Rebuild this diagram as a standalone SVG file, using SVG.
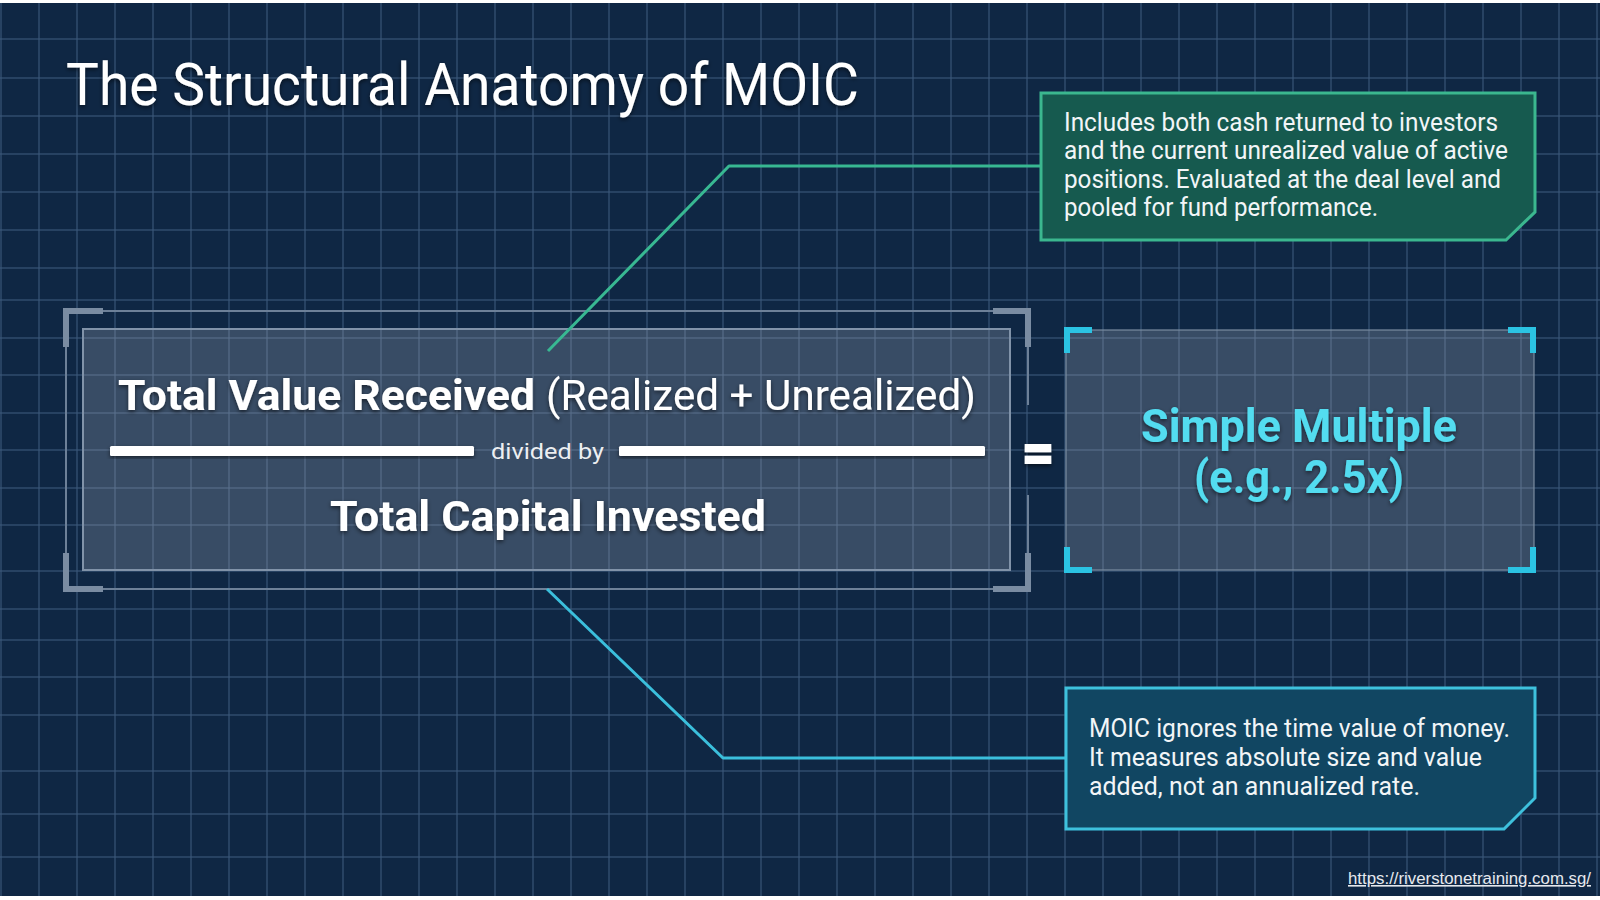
<svg xmlns="http://www.w3.org/2000/svg" width="1600" height="900" viewBox="0 0 1600 900">
  <defs>
    <style>
      .grid line { stroke: #3b587a; stroke-width: 1.5; stroke-opacity: 0.75; }
      .t { font-family: Roboto, "Liberation Sans", sans-serif; fill: #ffffff; }
      .b { font-weight: 700; }
      .cy { fill: #52dcf0; font-weight: 700; }
      .note { font-family: Roboto, "Liberation Sans", sans-serif; fill: #f2f5f7; font-size: 25px; }
      .frame { fill: none; stroke: #6d8098; stroke-width: 2; }
      .brk { fill: none; stroke: #7a8ca2; stroke-width: 6; }
      .cbrk { fill: none; stroke: #2bc3e3; stroke-width: 6; }
      .panel { fill: #a4aebc; fill-opacity: 0.28; }
    </style>
    <filter id="sh" x="-10%" y="-30%" width="120%" height="160%">
      <feDropShadow dx="0" dy="2" stdDeviation="2" flood-color="#000000" flood-opacity="0.55"/>
    </filter>
  </defs>

  <rect x="0" y="0" width="1600" height="900" fill="#ffffff"/>
  <rect x="0" y="3" width="1600" height="893" fill="#0f2744"/>

  <g class="grid">
    <line x1="1" y1="3" x2="1" y2="896"/><line x1="39" y1="3" x2="39" y2="896"/><line x1="77" y1="3" x2="77" y2="896"/><line x1="115" y1="3" x2="115" y2="896"/><line x1="153" y1="3" x2="153" y2="896"/><line x1="191" y1="3" x2="191" y2="896"/><line x1="229" y1="3" x2="229" y2="896"/><line x1="267" y1="3" x2="267" y2="896"/><line x1="305" y1="3" x2="305" y2="896"/><line x1="343" y1="3" x2="343" y2="896"/><line x1="381" y1="3" x2="381" y2="896"/><line x1="419" y1="3" x2="419" y2="896"/><line x1="457" y1="3" x2="457" y2="896"/><line x1="495" y1="3" x2="495" y2="896"/><line x1="533" y1="3" x2="533" y2="896"/><line x1="571" y1="3" x2="571" y2="896"/><line x1="609" y1="3" x2="609" y2="896"/><line x1="647" y1="3" x2="647" y2="896"/><line x1="685" y1="3" x2="685" y2="896"/><line x1="723" y1="3" x2="723" y2="896"/><line x1="761" y1="3" x2="761" y2="896"/><line x1="799" y1="3" x2="799" y2="896"/><line x1="837" y1="3" x2="837" y2="896"/><line x1="875" y1="3" x2="875" y2="896"/><line x1="913" y1="3" x2="913" y2="896"/><line x1="951" y1="3" x2="951" y2="896"/><line x1="989" y1="3" x2="989" y2="896"/><line x1="1027" y1="3" x2="1027" y2="896"/><line x1="1065" y1="3" x2="1065" y2="896"/><line x1="1103" y1="3" x2="1103" y2="896"/><line x1="1141" y1="3" x2="1141" y2="896"/><line x1="1179" y1="3" x2="1179" y2="896"/><line x1="1217" y1="3" x2="1217" y2="896"/><line x1="1255" y1="3" x2="1255" y2="896"/><line x1="1293" y1="3" x2="1293" y2="896"/><line x1="1331" y1="3" x2="1331" y2="896"/><line x1="1369" y1="3" x2="1369" y2="896"/><line x1="1407" y1="3" x2="1407" y2="896"/><line x1="1445" y1="3" x2="1445" y2="896"/><line x1="1483" y1="3" x2="1483" y2="896"/><line x1="1521" y1="3" x2="1521" y2="896"/><line x1="1559" y1="3" x2="1559" y2="896"/><line x1="1597" y1="3" x2="1597" y2="896"/>
    <line x1="0" y1="39" x2="1600" y2="39"/><line x1="0" y1="78" x2="1600" y2="78"/><line x1="0" y1="116" x2="1600" y2="116"/><line x1="0" y1="154" x2="1600" y2="154"/><line x1="0" y1="192" x2="1600" y2="192"/><line x1="0" y1="230" x2="1600" y2="230"/><line x1="0" y1="268" x2="1600" y2="268"/><line x1="0" y1="300" x2="1600" y2="300"/><line x1="0" y1="338" x2="1600" y2="338"/><line x1="0" y1="375" x2="1600" y2="375"/><line x1="0" y1="413" x2="1600" y2="413"/><line x1="0" y1="450" x2="1600" y2="450"/><line x1="0" y1="488" x2="1600" y2="488"/><line x1="0" y1="525" x2="1600" y2="525"/><line x1="0" y1="571" x2="1600" y2="571"/><line x1="0" y1="609" x2="1600" y2="609"/><line x1="0" y1="640" x2="1600" y2="640"/><line x1="0" y1="677" x2="1600" y2="677"/><line x1="0" y1="715" x2="1600" y2="715"/><line x1="0" y1="771" x2="1600" y2="771"/><line x1="0" y1="814" x2="1600" y2="814"/><line x1="0" y1="857" x2="1600" y2="857"/>
  </g>

  <g id="title">
    <text class="t" x="66" y="105" font-size="60" textLength="793" lengthAdjust="spacingAndGlyphs" filter="url(#sh)">The Structural Anatomy of MOIC</text>
  </g>

  <g id="formula">
    <path class="frame" d="M1028 405 V311 H66 V589 H1028 V495"/>
    <path class="brk" d="M66 347 V311 H103 M993 311 H1028 V347 M1028 553 V589 H993 M103 589 H66 V553"/>
    <rect class="panel" x="83" y="329" width="927" height="241" stroke="#8193a9" stroke-width="2"/>
    <text class="t b" x="118" y="410" font-size="43" textLength="417" lengthAdjust="spacingAndGlyphs" filter="url(#sh)">Total Value Received</text>
    <text class="t" x="546" y="410" font-size="43" textLength="430" lengthAdjust="spacingAndGlyphs" filter="url(#sh)">(Realized + Unrealized)</text>
    <rect x="110" y="446" width="364" height="10" rx="1.5" fill="#ffffff" filter="url(#sh)"/>
    <rect x="619" y="446" width="366" height="10" rx="1.5" fill="#ffffff" filter="url(#sh)"/>
    <text class="t" x="491" y="459" font-size="22" textLength="113" lengthAdjust="spacingAndGlyphs" fill-opacity="0.92">divided by</text>
    <text class="t b" x="330" y="531" font-size="43" textLength="436" lengthAdjust="spacingAndGlyphs" filter="url(#sh)">Total Capital Invested</text>
  </g>

  <g id="equals">
    <text class="t b" x="1038" y="472" font-size="56" text-anchor="middle" stroke="#ffffff" stroke-width="2" filter="url(#sh)">=</text>
  </g>

  <g id="result">
    <rect class="panel" x="1066" y="330" width="468" height="240" stroke="#7b8ca0" stroke-width="1.5" stroke-opacity="0.8"/>
    <path class="cbrk" d="M1067 353 V330 H1092 M1508 330 H1533 V353 M1533 547 V570 H1508 M1092 570 H1067 V547"/>
    <text class="t cy" x="1141" y="442" font-size="47" textLength="316" lengthAdjust="spacingAndGlyphs" filter="url(#sh)">Simple Multiple</text>
    <text class="t cy" x="1194" y="493" font-size="47" textLength="210" lengthAdjust="spacingAndGlyphs" filter="url(#sh)">(e.g., 2.5x)</text>
  </g>

  <g id="connectors" fill="none" stroke-width="3" stroke-linejoin="round">
    <polyline points="548,351 729,166 1041,166" stroke="#38b892"/>
    <polyline points="547,589 723,758 1066,758" stroke="#3bbfdc"/>
  </g>

  <g id="note-value">
    <path d="M1041 93 H1535 V212 L1506 240 H1041 Z" fill="#165a4f" stroke="#3bb78f" stroke-width="3"/>
    <text class="note" x="1064" y="131" textLength="434" lengthAdjust="spacingAndGlyphs">Includes both cash returned to investors</text>
    <text class="note" x="1064" y="159" textLength="444" lengthAdjust="spacingAndGlyphs">and the current unrealized value of active</text>
    <text class="note" x="1064" y="188" textLength="437" lengthAdjust="spacingAndGlyphs">positions. Evaluated at the deal level and</text>
    <text class="note" x="1064" y="216" textLength="314" lengthAdjust="spacingAndGlyphs">pooled for fund performance.</text>
  </g>

  <g id="note-time">
    <path d="M1066 688 H1535 V798 L1504 829 H1066 Z" fill="#114662" stroke="#3ec1dd" stroke-width="3"/>
    <text class="note" x="1089" y="737" textLength="421" lengthAdjust="spacingAndGlyphs">MOIC ignores the time value of money.</text>
    <text class="note" x="1089" y="766" textLength="393" lengthAdjust="spacingAndGlyphs">It measures absolute size and value</text>
    <text class="note" x="1089" y="795" textLength="331" lengthAdjust="spacingAndGlyphs">added, not an annualized rate.</text>
  </g>

  <g id="footer">
    <text x="1348" y="884" font-family="'Liberation Sans', Arial, sans-serif" font-size="16" fill="#e6e9ee" text-decoration="underline" textLength="243" lengthAdjust="spacingAndGlyphs">https://riverstonetraining.com.sg/</text>
  </g>
</svg>
